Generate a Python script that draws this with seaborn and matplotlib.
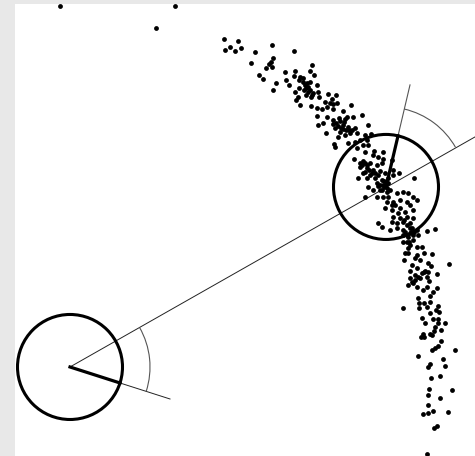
import matplotlib
matplotlib.use("Agg")
import matplotlib.pyplot as plt
from matplotlib.patches import Arc, Circle
import seaborn as sns

# dot positions (pixels, y downwards)
dots_x = [60, 175, 156,
          224, 238, 230, 225, 235, 241, 255, 272, 294, 251, 273, 271, 269, 266, 272, 259, 263, 276, 273,
          285, 295, 312, 310, 314, 294, 300, 286, 289, 299, 303, 307, 310, 317, 299, 306, 308, 313, 318,
          295, 311, 319, 298, 296, 300, 311, 328, 336, 332, 330, 333, 337, 325, 317, 322, 327, 333, 343,
          351, 362, 353, 347, 317, 327, 333, 340, 345, 368, 318, 323, 333, 338, 343, 348, 355, 326, 335,
          340, 345, 350, 357, 338, 334, 335, 365, 371, 360, 367, 348, 355, 363, 368, 357, 365, 374, 383,
          373, 378, 383, 354, 363, 370, 377, 382, 392, 360, 367, 373, 380, 363, 370, 378, 385, 393, 399,
          358, 367, 375, 382, 388, 393, 414, 368, 377, 383, 388, 373, 382, 387, 377, 365, 383, 388, 397,
          403, 408, 413, 417, 387, 393, 400, 407, 410, 385, 392, 400, 405, 413, 393, 400, 407, 413, 392,
          397, 403, 410, 378, 382, 390, 397, 403, 410, 417, 427, 435, 403, 408, 413, 418, 407, 410, 417,
          422, 410, 403, 409, 408, 405, 408, 417, 424, 432, 415, 420, 404, 428, 431, 449, 412, 417, 410,
          425, 428, 422, 437, 418, 410, 415, 427, 429, 408, 413, 417, 423, 427, 437, 433, 430, 418, 419,
          424, 430, 419, 427, 403, 438, 436, 430, 439, 422, 425, 433, 438, 445, 438, 435, 441, 434, 423,
          430, 432, 421, 424, 441, 438, 435, 432, 455, 418, 443, 430, 428, 445, 431, 440, 429, 452, 428,
          440, 428, 423, 428, 433, 448, 437, 434, 427,
          344, 346, 341, 349, 339, 336, 352, 343, 305, 308, 304, 310, 312, 306, 303,
          362, 365, 360, 367, 369, 372, 375, 365, 380, 384, 386, 380, 378, 384, 390, 387,
          395, 392, 398, 404, 407, 411, 413, 407, 405, 412, 414, 415, 420, 412, 424]
dots_y = [6, 6, 28,
          39, 41, 47, 50, 51, 48, 52, 45, 51, 63, 58, 62, 64, 68, 67, 75, 79, 83, 90,
          72, 71, 65, 71, 75, 76, 77, 80, 85, 80, 78, 83, 82, 85, 88, 88, 92, 93, 92,
          92, 97, 97, 97, 100, 105, 106, 94, 95, 99, 103, 104, 103, 102, 108, 109, 107, 109, 111,
          105, 115, 117, 117, 116, 117, 120, 121, 119, 125, 125, 123, 124, 126, 125, 127, 128, 133, 128,
          132, 135, 133, 133, 137, 144, 147, 135, 134, 140, 140, 143, 142, 145, 145, 148, 152, 151, 152,
          155, 157, 159, 159, 161, 163, 165, 163, 160, 167, 168, 170, 171, 173, 175, 175, 173, 170, 173,
          178, 178, 178, 180, 178, 175, 178, 187, 183, 185, 183, 190, 190, 188, 197, 197, 197, 197, 193,
          192, 193, 197, 200, 202, 202, 200, 202, 205, 208, 210, 208, 212, 210, 217, 218, 217, 218, 222,
          223, 222, 223, 223, 227, 230, 228, 230, 228, 230, 231, 229, 235, 237, 235, 235, 242, 245, 247,
          247, 233, 242, 242, 248, 253, 253, 255, 253, 254, 258, 260, 260, 263, 266, 264, 265, 268, 271,
          271, 272, 273, 274, 277, 278, 280, 277, 281, 285, 283, 287, 290, 287, 288, 292, 296, 298, 303,
          303, 302, 308, 307, 308, 306, 310, 313, 312, 318, 323, 319, 319, 323, 323, 327, 330, 331, 334,
          334, 335, 337, 337, 341, 346, 348, 350, 350, 356, 359, 364, 367, 366, 378, 376, 389, 390, 395,
          398, 405, 414, 413, 411, 412, 426, 428, 454,
          122, 130, 128, 130, 118, 123, 130, 129, 85, 87, 90, 90, 95, 95, 82,
          165, 163, 163, 165, 170, 173, 173, 172, 185, 187, 184, 190, 186, 181, 190, 192,
          205, 205, 213, 220, 225, 232, 240, 235, 232, 228, 232, 275, 278, 282, 272]

# the two discs
centre_a = (70, 367)
centre_b = (386, 187)
radius = 52.5
arc_radius = 80

# thin guide lines, and the thick radius inside each disc
ray_long_x = [70, 475]
ray_long_y = [367, 137]
ray_a_x = [70, 170]
ray_a_y = [367, 399]
ray_b_x = [386, 410]
ray_b_y = [187, 85]
spoke_a_x = [70, 120]
spoke_a_y = [367, 383]
spoke_b_x = [386, 398]
spoke_b_y = [187, 136]

fig = plt.figure(figsize=(4.75, 4.561), dpi=100, facecolor="#e8e8e8")
ax = fig.add_axes([15 / 475, 0, 460 / 475, 452 / 456], facecolor="white")

sns.scatterplot(x=dots_x, y=dots_y, ax=ax, color="black", s=12, linewidth=0, legend=False, zorder=3)

ax.plot(ray_long_x, ray_long_y, color="#222222", lw=0.7, zorder=2)
ax.plot(ray_a_x, ray_a_y, color="#222222", lw=0.7, zorder=2)
ax.plot(ray_b_x, ray_b_y, color="#555555", lw=0.8, zorder=2)
ax.plot(spoke_a_x, spoke_a_y, color="black", lw=2.3, zorder=4)
ax.plot(spoke_b_x, spoke_b_y, color="black", lw=2.3, zorder=4)

for centre in (centre_a, centre_b):
    ax.add_patch(Circle(centre, radius, fill=False, edgecolor="black", lw=2.2, zorder=4))

ax.add_patch(Arc(centre_a, 2 * arc_radius, 2 * arc_radius, theta1=-29.6, theta2=17.7,
                 edgecolor="#555555", lw=0.8, zorder=2))
ax.add_patch(Arc(centre_b, 2 * arc_radius, 2 * arc_radius, theta1=-76.8, theta2=-29.6,
                 edgecolor="#555555", lw=0.8, zorder=2))

# pixel frame, no ticks or spines
ax.set_xlim(15, 475)
ax.set_ylim(456, 4)
ax.set_xticks([])
ax.set_yticks([])
ax.set_xlabel("")
ax.set_ylabel("")
sns.despine(ax=ax, left=True, bottom=True)

plt.savefig("out.png", dpi=100, facecolor=fig.get_facecolor())
plt.close(fig)
